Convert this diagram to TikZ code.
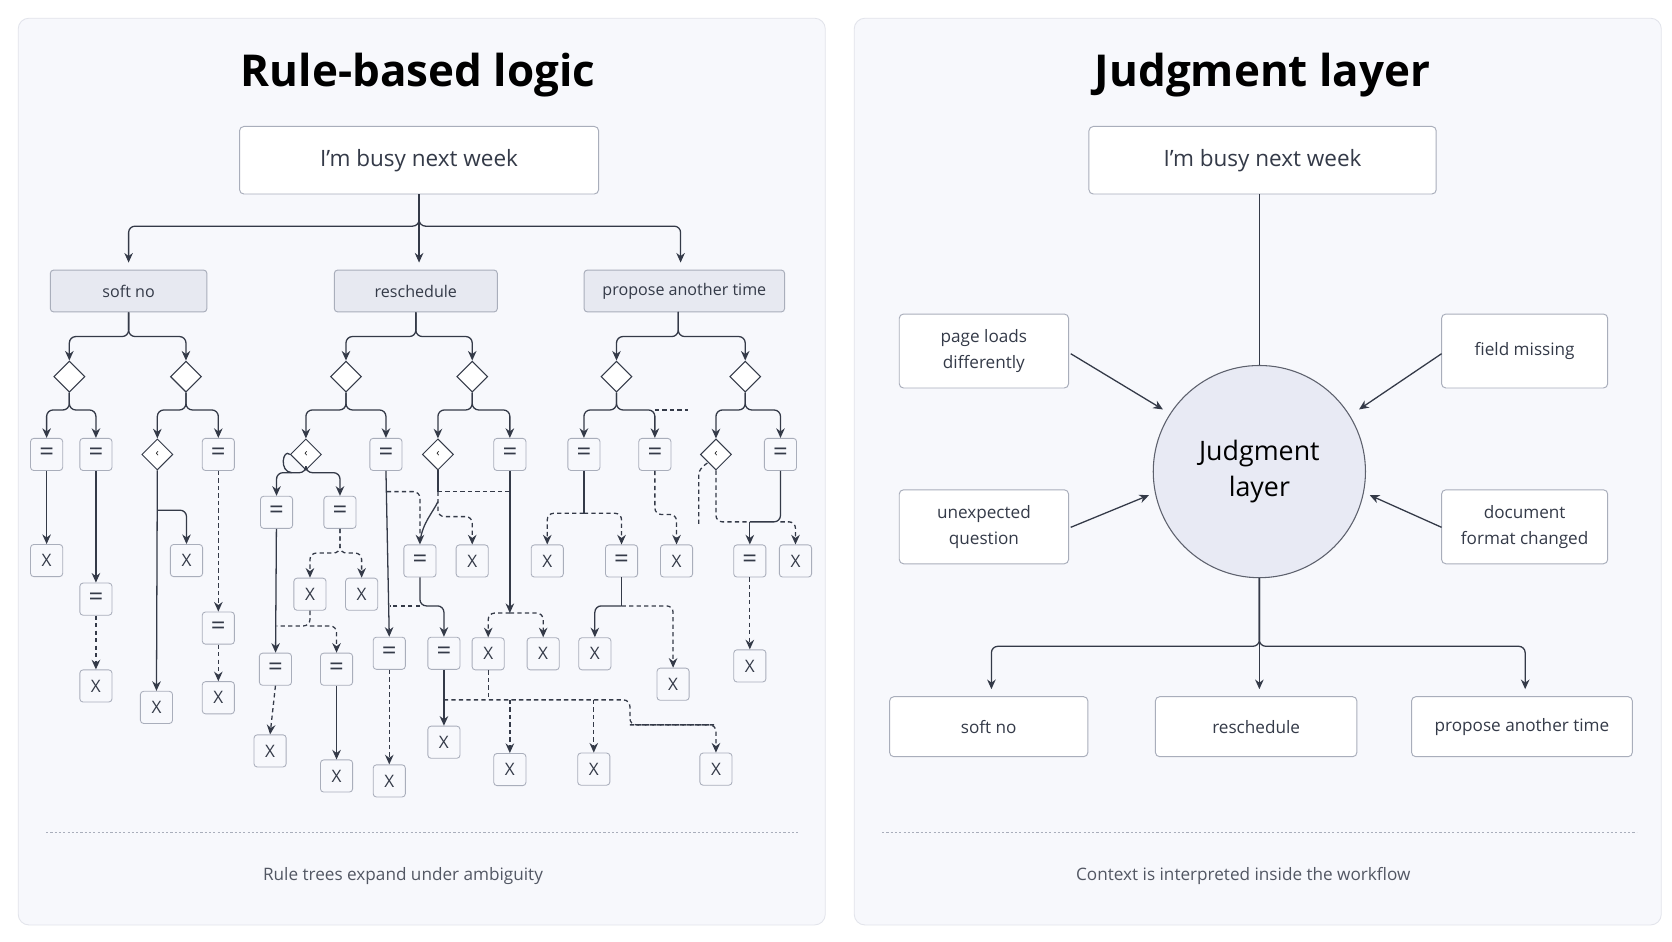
\documentclass[tikz,border=0pt]{standalone}
\usepackage{fontspec}
\setmainfont{Open Sans}
\usetikzlibrary{shapes.geometric,arrows.meta}
\definecolor{ink}{HTML}{343A48}
\definecolor{bord}{HTML}{A9AEBB}
\definecolor{pfill}{HTML}{F7F8FC}
\definecolor{pbord}{HTML}{E2E4EB}
\definecolor{gfill}{HTML}{E7E9F1}
\definecolor{cfill}{HTML}{E8EAF4}
\begin{document}
\begin{tikzpicture}[x=1pt,y=-1pt,
  panel/.style={draw=pbord,fill=pfill,rounded corners=10pt,line width=0.8pt},
  big/.style={draw=bord,fill=white,rounded corners=4pt,line width=0.9pt,font=\fontsize{21}{24}\selectfont,text=ink},
  gbtn/.style={draw=bord,fill=gfill,rounded corners=3pt,line width=0.9pt,font=\fontsize{15}{18}\selectfont,text=ink,minimum height=39pt},
  wbtn/.style={draw=bord,fill=white,rounded corners=4pt,line width=0.9pt,font=\fontsize{16}{24}\selectfont,text=ink,align=center},
  sb/.style={draw=bord,fill=pfill,rounded corners=3pt,line width=0.8pt,minimum width=30pt,minimum height=30pt,inner sep=0pt,font=\fontsize{16}{16}\selectfont,text=ink},
  eq/.style={sb,font=\fontsize{24}{24}\selectfont},
  dm/.style={draw=ink,fill=white,diamond,line width=1pt,minimum width=29pt,minimum height=29pt,inner sep=0pt},
  dms/.style={draw=ink,fill=white,diamond,line width=0.9pt,minimum width=29pt,minimum height=29pt,inner sep=0pt,font=\fontsize{10}{10}\selectfont},
  ln/.style={draw=ink,line width=1.2pt,rounded corners=6pt},
  arr/.style={ln,-{Stealth[length=9pt,width=8pt]}},
  dsh/.style={dash pattern=on 4pt off 3pt},
  ttl/.style={font=\fontsize{41}{48}\selectfont\bfseries,text=black},
  captxt/.style={font=\fontsize{16}{20}\selectfont,text=ink!85}]
\useasboundingbox (0,0) rectangle (1560,878);
\fill[white] (0,0) rectangle (1560,878);
\draw[panel] (17,17) rectangle (770,863);
\draw[panel] (797,17) rectangle (1550,863);
% ---------- left ----------
\node[ttl] (t1) at (390,70) {Rule-based logic};
\node[big,minimum width=335pt,minimum height=63pt] (top) at (391,149.5) {I’m busy next week};
\node[gbtn,minimum width=146pt] (sn) at (120,271.5) {soft no};
\node[gbtn,minimum width=152pt] (rs) at (388,271.5) {reschedule};
\node[gbtn,minimum width=187pt] (pa) at (638.5,271.5) {propose another time};
\draw[arr] (top.south) -- (391,211) -| (120,245);
\draw[arr] (top.south) -- (391,211) -| (635,245);
\draw[arr] (top.south) -- (391,245);
% subtree A
\node[dm] (d1) at (64.7,351.4) {};
\node[dm] (d2) at (173.5,351.4) {};
\node[eq] (e1) at (43.5,424) {=};
\node[eq] (e2) at (89.5,424) {=};
\node[dms] (c1) at (146.8,424) {‹};
\node[eq] (e3) at (203.7,424) {=};
\node[sb] (x1) at (43.5,523) {X};
\node[eq] (e4) at (89.5,559) {=};
\node[sb] (x2) at (89.5,640) {X};
\node[sb] (x3) at (146,660) {X};
\node[sb] (x4) at (174,523) {X};
\node[eq] (e5) at (203.7,586) {=};
\node[sb] (x5) at (203.7,651) {X};
\draw[arr] (sn.south) -- (sn.south|-0,314) -| (d1.north);
\draw[arr] (sn.south) -- (sn.south|-0,314) -| (d2.north);
\draw[arr] (d1.south) -- (d1.south|-0,382.5) -| (e1.north);
\draw[arr] (d1.south) -- (d1.south|-0,382.5) -| (e2.north);
\draw[arr] (d2.south) -- (d2.south|-0,382.5) -| (c1.north);
\draw[arr] (d2.south) -- (d2.south|-0,382.5) -| (e3.north);
\draw[arr] (e1) -- (x1);
\draw[arr] (e2) -- (e4);
\draw[arr,dsh] (e4) -- (x2);
\draw[arr] (c1.south) -- (x3.north);
\draw[arr] (146.5,476) -| (x4.north);
\draw[arr,dsh] (e3) -- (e5);
\draw[arr,dsh] (e5) -- (x5);
% subtree B
\node[dm] (d3) at (322.8,351.4) {};
\node[dm] (d4) at (440.6,351.4) {};
\node[dms] (c2) at (285.4,424) {‹};
\node[eq] (e6) at (360.1,424) {=};
\node[dms] (c3) at (408.6,424) {‹};
\node[eq] (e7) at (475.7,424) {=};
\node[eq] (e8) at (258,478) {=};
\node[eq] (e9) at (317.2,478) {=};
\node[eq] (e10) at (257,624.4) {=};
\node[sb] (x6) at (252,700.6) {X};
\node[sb] (x7) at (289.2,554.4) {X};
\node[sb] (x8) at (337.4,554.4) {X};
\node[eq] (e11) at (314,624.4) {=};
\node[sb] (x9) at (314,724) {X};
\node[eq] (e12) at (363.2,609.5) {=};
\node[sb] (x10) at (363.2,728.6) {X};
\node[eq] (e13) at (391.8,523.4) {=};
\node[sb] (x11) at (440.6,523.4) {X};
\node[eq] (e14) at (414.2,609.5) {=};
\node[sb] (x12) at (455.5,610) {X};
\node[sb] (x13) at (506.8,610) {X};
\node[sb] (x14) at (414.2,692.5) {X};
\node[sb] (x15) at (475.7,718) {X};
\node[sb] (x16) at (554,717.6) {X};
\node[sb] (x17) at (668,717.6) {X};
\draw[arr] (rs.south) -- (rs.south|-0,314) -| (d3.north);
\draw[arr] (rs.south) -- (rs.south|-0,314) -| (d4.north);
\draw[arr] (d3.south) -- (d3.south|-0,382.5) -| (c2.north);
\draw[arr] (d3.south) -- (d3.south|-0,382.5) -| (e6.north);
\draw[arr] (d4.south) -- (d4.south|-0,382.5) -| (c3.north);
\draw[arr] (d4.south) -- (d4.south|-0,382.5) -| (e7.north);
\draw[arr] (c2.south) -- (285.4,441) -| (e8.north);
\draw[arr] (c2.south) -- (285.4,441) -| (e9.north);
\draw[ln] (c2.west) .. controls (264,418) and (260,440) .. (272,441);
\draw[arr] (e8) -- (e10);
\draw[arr,dsh] (e10.south) -- (x6.north);
\draw[arr,dsh] (e9.south) -- (317.2,516) -| (x7.north);
\draw[arr,dsh] (e9.south) -- (317.2,516) -| (x8.north);
\draw[ln,dsh] (x7.south) -- (289.2,584) -- (258,584);
\draw[arr,dsh] (289.2,584) -| (e11.north);
\draw[arr] (e11) -- (x9);
\draw[arr] (e6.south) -- (e12.north);
\draw[arr,dsh] (e12) -- (x10);
\draw[arr,dsh] (361,458.7) -| (e13.north);
\draw[ln] (c3.south) -- (408.6,458.7);
\draw[ln,dsh] (408.6,458.7) -- (475.7,458.7);
\draw[arr,dsh] (408.6,458.7) -- (408.6,482) -| (x11.north);
\draw[ln] (408.6,468) .. controls (404,478) and (394,488) .. (392,505);
\draw[arr] (e13.south) -- (391.8,565.3) -| (e14.north);
\draw[ln,dsh] (391.8,565.3) -- (363.5,565.3);
\draw[arr] (e7.south) -- (475.7,572);
\draw[arr,dsh] (475.7,572) -| (x12.north);
\draw[arr,dsh] (475.7,572) -| (x13.north);
\draw[arr] (e14) -- (x14);
\draw[ln,dsh] (x12.south) -- (455.5,653);
\draw[ln,dsh] (414.2,653) -- (587.7,653) -- (587.7,676.3) -- (668,676.3);
\draw[arr,dsh] (587.7,676.3) -| (x17.north);
\draw[arr,dsh] (475.7,653) -- (x15.north);
\draw[arr,dsh] (554,653) -- (x16.north);
% subtree C
\node[dm] (d5) at (575.2,351.4) {};
\node[dm] (d6) at (695.3,351.4) {};
\node[eq] (e15) at (544.8,424) {=};
\node[eq] (e16) at (611,424) {=};
\node[dms] (c4) at (668,424) {‹};
\node[eq] (e17) at (728.2,424) {=};
\node[sb] (x18) at (510.6,523.4) {X};
\node[eq] (e18) at (579.9,523.4) {=};
\node[sb] (x19) at (555,610) {X};
\node[sb] (x20) at (628,638.4) {X};
\node[sb] (x21) at (631.2,523.4) {X};
\node[eq] (e19) at (699.6,523.4) {=};
\node[sb] (x22) at (742.2,523.4) {X};
\node[sb] (x23) at (699.6,621.3) {X};
\draw[arr] (632.8,291) -- (632.8,314) -| (d5.north);
\draw[arr] (632.8,291) -- (632.8,314) -| (d6.north);
\draw[arr] (d5.south) -- (d5.south|-0,382.5) -| (e15.north);
\draw[arr] (d5.south) -- (d5.south|-0,382.5) -| (e16.north);
\draw[ln,dsh] (611,382.5) -- (642,382.5);
\draw[arr] (d6.south) -- (d6.south|-0,382.5) -| (c4.north);
\draw[arr] (d6.south) -- (d6.south|-0,382.5) -| (e17.north);
\draw[ln] (e15.south) -- (544.8,478.9);
\draw[arr,dsh] (544.8,478.9) -| (x18.north);
\draw[arr,dsh] (544.8,478.9) -| (e18.north);
\draw[ln] (e18.south) -- (579.9,565.3);
\draw[arr] (579.9,565.3) -| (x19.north);
\draw[arr,dsh] (579.9,565.3) -| (x20.north);
\draw[arr,dsh] (e16.south) -- (611,480) -| (x21.north);
\draw[ln,dsh] (c4.south) -- (668,486.9) -- (699.6,486.9);
\draw[ln,dsh] (660,432) .. controls (654,436) and (652,440) .. (652,448) -- (652,490);
\draw[ln] (e17.south) -- (728.2,486.9) -- (699.6,486.9);
\draw[arr] (699.6,486.9) -- (e19.north);
\draw[arr,dsh] (728.2,486.9) -| (x22.north);
\draw[arr,dsh] (e19) -- (x23);
\draw[bord,dash pattern=on 2pt off 2pt,line width=0.8pt] (43,777) -- (746,777);
\node[captxt] (cp1) at (376,817) {Rule trees expand under ambiguity};
% ---------- right ----------
\node[ttl] (t2) at (1178,70) {Judgment layer};
\node[big,minimum width=324pt,minimum height=63pt] (top2) at (1178,149.5) {I’m busy next week};
\node[circle,draw=ink!80,fill=cfill,line width=1pt,minimum size=198pt,font=\fontsize{25}{33}\selectfont,align=center,text=black] (jl) at (1175,440) {Judgment\\layer};
\node[wbtn,minimum width=158pt,minimum height=69pt] (p1) at (918,327.5) {page loads\\differently};
\node[wbtn,minimum width=158pt,minimum height=69pt] (p2) at (918,491.5) {unexpected\\question};
\node[wbtn,minimum width=155pt,minimum height=69pt] (p3) at (1422.5,327.5) {field missing};
\node[wbtn,minimum width=155pt,minimum height=69pt] (p4) at (1422.5,491.5) {document\\format changed};
\node[wbtn,minimum width=185pt,minimum height=56pt] (b1) at (922.5,678) {soft no};
\node[wbtn,minimum width=188pt,minimum height=56pt] (b2) at (1172,678) {reschedule};
\node[wbtn,minimum width=206pt,minimum height=56pt] (b3) at (1420,678) {propose another time};
\draw[ln] (1175,181) -- (jl.north);
\draw[arr] (999,330) -- (1085,382);
\draw[arr] (999,492) -- (1072,462);
\draw[arr] (1345,330) -- (1268,382);
\draw[arr] (1345,492) -- (1278,462);
\draw[arr] (jl.south) -- (1175,603) -| (925,643);
\draw[arr] (jl.south) -- (1175,603) -| (1423,643);
\draw[arr] (jl.south) -- (1175,643);
\draw[bord,dash pattern=on 2pt off 2pt,line width=0.8pt] (823,777) -- (1527,777);
\node[captxt] (cp2) at (1160,817) {Context is interpreted inside the workflow};
\end{tikzpicture}
\end{document}
